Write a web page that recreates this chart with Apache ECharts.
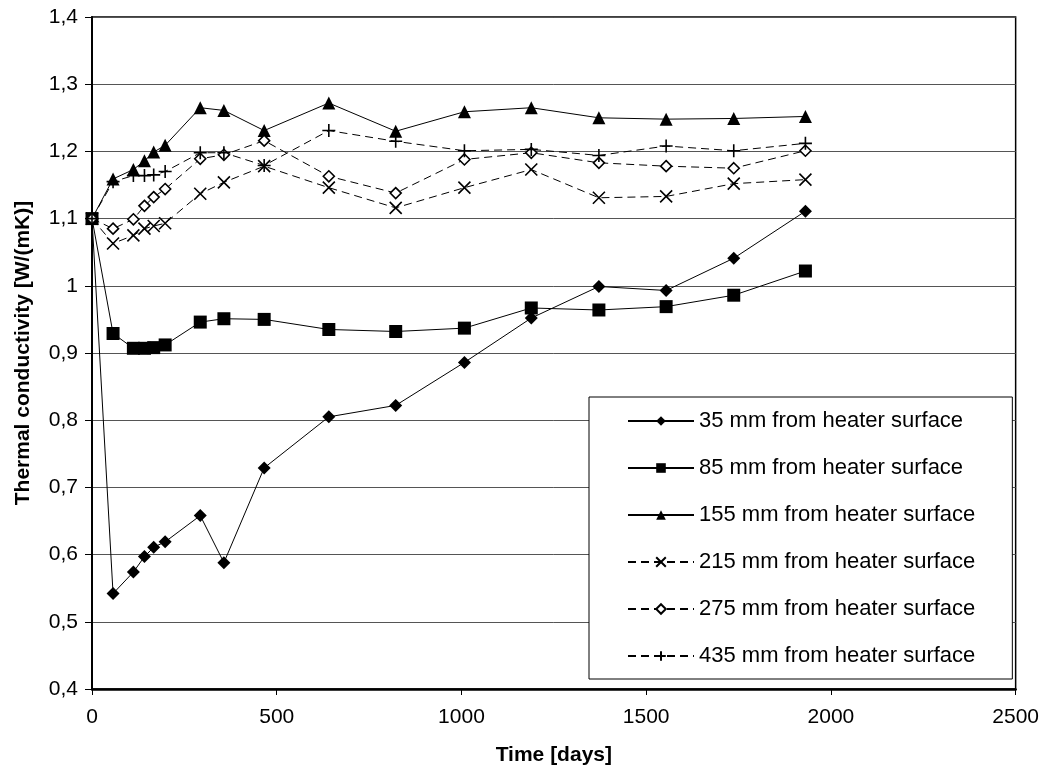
<!DOCTYPE html>
<html><head><meta charset="utf-8">
<script src="https://cdn.jsdelivr.net/npm/echarts@6/dist/echarts.min.js"></script>
<style>html,body{margin:0;padding:0;background:#fff}#c{width:1042px;height:776px}</style>
</head><body><div id="c"></div>
<script>
const days = [0, 57, 112, 142, 167, 198, 293, 357, 466, 641, 822, 1008, 1189, 1372, 1554, 1737, 1931];
const s35  = [1.10, 0.542, 0.574, 0.597, 0.611, 0.619, 0.658, 0.588, 0.729, 0.805, 0.822, 0.886, 0.952, 0.999, 0.993, 1.041, 1.111];
const s85  = [1.10, 0.929, 0.907, 0.907, 0.908, 0.912, 0.946, 0.951, 0.950, 0.935, 0.932, 0.937, 0.967, 0.964, 0.969, 0.986, 1.022];
const s155 = [1.10, 1.159, 1.173, 1.186, 1.199, 1.209, 1.265, 1.261, 1.231, 1.272, 1.230, 1.259, 1.265, 1.250, 1.248, 1.249, 1.252];
const s215 = [1.10, 1.063, 1.075, 1.085, 1.089, 1.093, 1.137, 1.154, 1.178, 1.146, 1.116, 1.146, 1.173, 1.131, 1.133, 1.152, 1.158];
const s275 = [1.10, 1.085, 1.099, 1.119, 1.132, 1.144, 1.189, 1.195, 1.216, 1.163, 1.138, 1.188, 1.198, 1.183, 1.178, 1.175, 1.201];
const s435 = [1.10, 1.155, 1.164, 1.164, 1.165, 1.170, 1.198, 1.198, 1.179, 1.231, 1.215, 1.201, 1.203, 1.194, 1.208, 1.201, 1.212];
const names = ['35 mm from heater surface','85 mm from heater surface','155 mm from heater surface','215 mm from heater surface','275 mm from heater surface','435 mm from heater surface'];

const FONT = 'Liberation Sans, Arial, sans-serif';
function pts(arr){ return days.map((d,i)=>[d, arr[i]]); }
const solid = {color:'#000', width:1, type:'solid'};
const dashed = {color:'#000', width:1, type:[8,5]};
const X_PATH = 'path://M0,0L10,10M10,0L0,10';
const PLUS_PATH = 'path://M5,0L5,10M0,5L10,5';
function mk(name, data, symbol, size, ls, item){
  return {name, type:'line', data:pts(data), symbol, symbolSize:size, showSymbol:true,
    lineStyle:ls, itemStyle:item, emphasis:{disabled:true}, animation:false};
}
const series = [
  mk(names[0], s35, 'diamond', 13, solid, {color:'#000'}),
  mk(names[1], s85, 'rect', 13, solid, {color:'#000'}),
  mk(names[2], s155, 'triangle', 13, solid, {color:'#000'}),
  mk(names[3], s215, X_PATH, 12, dashed, {color:'#000', borderColor:'#000', borderWidth:1.6}),
  mk(names[4], s275, 'diamond', 11, dashed, {color:'#fff', borderColor:'#000', borderWidth:1.6}),
  mk(names[5], s435, PLUS_PATH, 13, dashed, {color:'#000', borderColor:'#000', borderWidth:1.6})
];

const chart = echarts.init(document.getElementById('c'), null, {renderer:'canvas'});
chart.setOption({
  backgroundColor:'#fff',
  textStyle:{fontFamily:FONT},
  grid:{left:92, right:26, top:17, bottom:87, show:true, borderColor:'#000', borderWidth:1.5},
  legend:{
    orient:'vertical', left:589, top:397, itemWidth:66, itemHeight:12, itemGap:25,
    padding:[13,37,12,38], backgroundColor:'#fff', borderColor:'#000', borderWidth:1,
    textStyle:{fontFamily:FONT, fontSize:22, lineHeight:22, color:'#000'},
    data:names, selectedMode:false
  },
  xAxis:{
    type:'value', min:0, max:2500, interval:500,
    name:'Time [days]', nameLocation:'middle', nameGap:56,
    nameTextStyle:{fontFamily:FONT, fontSize:21, fontWeight:'bold', color:'#000'},
    axisLine:{show:true, lineStyle:{color:'#000', width:2.5}},
    axisTick:{show:true, inside:false, length:6, lineStyle:{color:'#000'}},
    axisLabel:{fontFamily:FONT, fontSize:21, color:'#000', margin:18,
      formatter:v=>String(v)},
    splitLine:{show:false}
  },
  yAxis:{
    type:'value', min:0.4, max:1.4, interval:0.1,
    name:'Thermal conductivity [W/(mK)]', nameLocation:'middle', nameGap:58, nameRotate:90,
    nameTextStyle:{fontFamily:FONT, fontSize:21, fontWeight:'bold', color:'#000'},
    axisLine:{show:true, lineStyle:{color:'#000', width:2}},
    axisTick:{show:true, inside:false, length:7, lineStyle:{color:'#000'}},
    axisLabel:{fontFamily:FONT, fontSize:21, color:'#000', margin:14,
      formatter:v=>String(+v.toFixed(1)).replace('.', ',')},
    splitLine:{show:true, lineStyle:{color:'#555', width:1}}
  },
  series
});
</script></body></html>
